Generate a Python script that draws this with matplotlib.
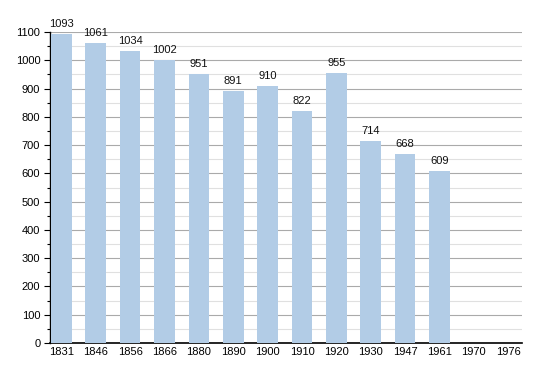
import matplotlib
matplotlib.use("Agg")
import matplotlib.pyplot as plt
from matplotlib.ticker import MultipleLocator

years = ["1831", "1846", "1856", "1866", "1880", "1890", "1900", "1910", "1920", "1930", "1947", "1961", "1970", "1976"]
population = [1093, 1061, 1034, 1002, 951, 891, 910, 822, 955, 714, 668, 609, None, None]

plt.rcParams['font.family'] = ['Liberation Sans', 'DejaVu Sans']
fig = plt.figure(figsize=(5.5, 3.73), dpi=100)
ax = fig.add_axes([50/550, 1 - 343/373, 472/550, 311/373])

xs = list(range(len(years)))
vals = [v if v is not None else 0 for v in population]
bars = ax.bar(xs, vals, width=0.6, color="#b2cce6", zorder=3)
for x, v in zip(xs, population):
    if v is not None:
        ax.text(x, v + 17, str(v), ha="center", va="bottom", fontsize=8, color="#111111", zorder=4)

ax.set_xlim(-0.33, len(years) - 0.6)
ax.set_ylim(0, 1100)
ax.set_xticks(xs)
ax.set_xticklabels(years, fontsize=8)
ax.yaxis.set_major_locator(MultipleLocator(100))
ax.yaxis.set_minor_locator(MultipleLocator(50))
ax.tick_params(axis="y", which="major", length=4, width=0.8, labelsize=8, pad=3)
ax.tick_params(axis="y", which="minor", length=2.5, width=0.8)
ax.tick_params(axis="x", length=0, pad=3)
ax.grid(axis="y", which="major", color="#aaaaaa", linewidth=0.8, zorder=0)
ax.grid(axis="y", which="minor", color="#e0e0e0", linewidth=0.8, zorder=0)
for s in ["top", "right"]:
    ax.spines[s].set_visible(False)
ax.spines["left"].set_linewidth(1.0)
ax.spines["bottom"].set_linewidth(1.2)

fig.savefig("out.png", dpi=100)
